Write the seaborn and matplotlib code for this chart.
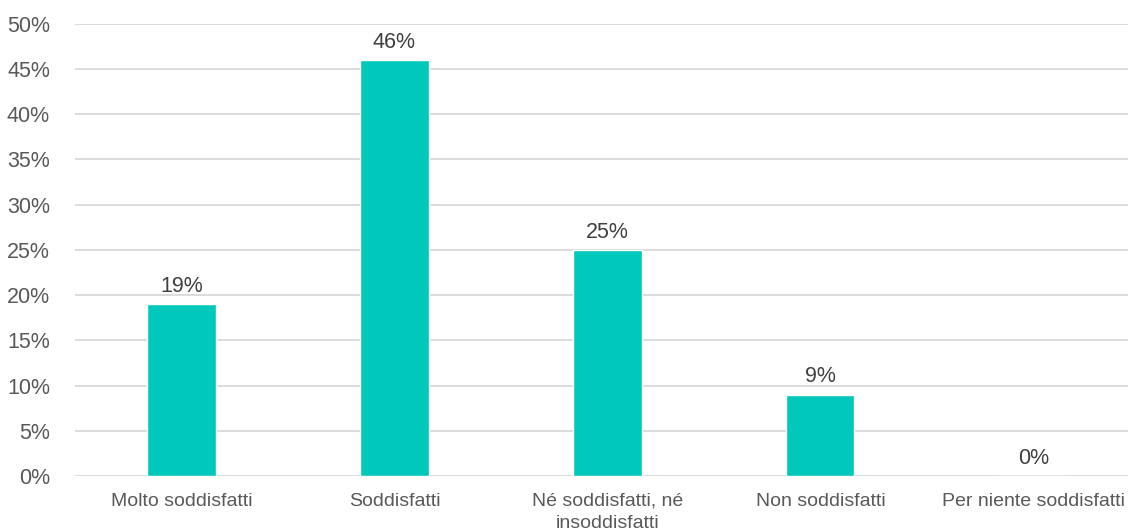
import matplotlib
matplotlib.use("Agg")
import matplotlib.pyplot as plt
import seaborn as sns
import pandas as pd
from matplotlib.ticker import PercentFormatter, MultipleLocator

categories = ["Molto soddisfatti", "Soddisfatti", "Né soddisfatti, né\ninsoddisfatti",
              "Non soddisfatti", "Per niente soddisfatti"]
values = [19, 46, 25, 9, 0]
value_labels = ["19%", "46%", "25%", "9%", "0%"]

sns.set_theme(style="white")
plt.rcParams["font.family"] = ["Liberation Sans", "DejaVu Sans"]

df = pd.DataFrame({"cat": categories, "val": values})

fig = plt.figure(figsize=(11.28, 5.30), dpi=100)
ax = fig.add_axes([0.0665, 0.102, 0.944, 0.853])
sns.barplot(data=df, x="cat", y="val", color="#00C9BC", width=0.32, saturation=1, ax=ax, zorder=3)

ax.set_ylim(0, 50)
ax.yaxis.set_major_locator(MultipleLocator(5))
ax.yaxis.set_major_formatter(PercentFormatter(decimals=0))
ax.grid(axis="y", color="#d9d9d9", linewidth=1.3, zorder=0)
ax.set_axisbelow(True)
for s in ax.spines.values():
    s.set_visible(False)
ax.set_xlabel("")
ax.set_ylabel("")
ax.tick_params(axis="y", labelsize=15.5, labelcolor="#595959", length=0, pad=18)
ax.tick_params(axis="x", labelsize=14, labelcolor="#595959", length=0, pad=12)
for t in ax.get_xticklabels():
    t.set_linespacing(1.4)

for i, (v, lab) in enumerate(zip(values, value_labels)):
    ax.text(i, v + 0.8, lab, ha="center", va="bottom", fontsize=15.5, color="#404040")

fig.savefig("out.png", dpi=100)
